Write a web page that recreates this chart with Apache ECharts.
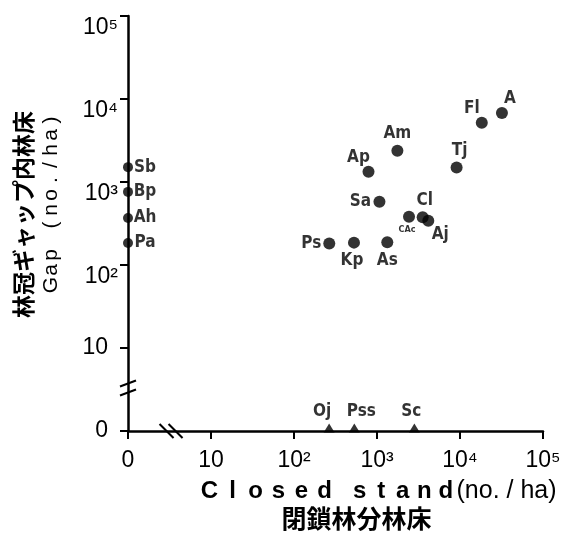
<!DOCTYPE html>
<html><head><meta charset="utf-8">
<script src="https://cdn.jsdelivr.net/npm/echarts@6/dist/echarts.min.js"></script>
<style>html,body{margin:0;padding:0;background:#fff}#c{width:564px;height:539px}</style>
</head><body><div id="c"></div>
<script>
// ---- data (0 means "none") ----
const mainNames  = ['A', 'Fl', 'Am', 'Ap', 'Tj', 'Sa', 'CAc', 'Cl', 'Aj', 'Ps', 'Kp', 'As'];
const mainClosed = [32000, 18300, 1760, 790, 9100, 1070, 2430, 3550, 4150, 266, 528, 1330];
const mainGap    = [6760, 5180, 2380, 1330, 1500, 580, 382, 376, 342, 182, 186, 188];

const gapOnlyNames = ['Sb', 'Bp', 'Ah', 'Pa'];
const gapOnlyClosed = [0, 0, 0, 0];
const gapOnlyGap = [1510, 760, 368, 184];

const closedOnlyNames = ['Oj', 'Pss', 'Sc'];
const closedOnlyClosed = [265, 533, 2820];
const closedOnlyGap = [0, 0, 0];

const tickLabels = ['0', '10', '10²', '10³', '10⁴', '10⁵'];

// ---- label placement (style, not data) ----
const labelOffsets = {
  A: [8, -15], Fl: [-10, -14], Am: [0, -17], Ap: [-10, -14], Tj: [3, -17], Sa: [-19, 0],
  CAc: [-2, 13], Cl: [2, -17], Aj: [12, 14], Ps: [-18, 0], Kp: [-2, 18], As: [0, 18],
  Sb: [17, 0], Bp: [17, 0], Ah: [17, 0], Pa: [17, 0],
  Oj: [-7, -16], Pss: [7, -16], Sc: [-3, -16]
};

const LBL_FONT = '"Liberation Sans Narrow", "DejaVu Sans Condensed", "Liberation Sans", sans-serif';
const AX_FONT = '"Liberation Sans", Arial, "DejaVu Sans", sans-serif';

function toAxis(v) { return v === 0 ? 1 : v; } // zero is drawn at the axis' "0" position (=1 on log scale)

function build(names, xs, ys) {
  return names.map((n, i) => ({
    name: n,
    value: [toAxis(xs[i]), toAxis(ys[i])],
    label: {
      offset: labelOffsets[n] || [0, 0],
      fontSize: n === 'CAc' ? 9 : 17
    }
  }));
}

function tickText(v) {
  const i = Math.round(Math.log10(v));
  return tickLabels[i] === undefined ? '' : tickLabels[i];
}

const labelCommon = {
  show: true, position: 'inside', formatter: p => p.name,
  color: '#000', fontFamily: LBL_FONT, fontWeight: 'bold', fontSize: 17
};

const chart = echarts.init(document.getElementById('c'), null, { renderer: 'canvas' });

const axisCommon = {
  type: 'log', logBase: 10, min: 1, max: 100000,
  axisLine: { show: true, lineStyle: { color: '#000', width: 2.5 } },
  axisTick: { show: true, inside: false, length: 8, lineStyle: { color: '#000', width: 2 } },
  minorTick: { show: false },
  splitLine: { show: false }
};
const lblFont = { color: '#000', fontFamily: AX_FONT, fontSize: 23, lineHeight: 23 };

chart.setOption({
  animation: false,
  backgroundColor: '#fff',
  grid: { left: 128, right: 21, top: 16, bottom: 108, containLabel: false },
  xAxis: Object.assign({}, axisCommon, {
    axisLabel: Object.assign({ formatter: tickText, margin: 18 }, lblFont)
  }),
  yAxis: [
    Object.assign({}, axisCommon, {
      position: 'left',
      axisLabel: Object.assign({
        formatter: v => (Math.round(Math.log10(v)) <= 1 ? tickText(v) : ''), margin: 20
      }, lblFont)
    }),
    Object.assign({}, axisCommon, {
      position: 'left', offset: 0,
      axisLine: { show: false }, axisTick: { show: false },
      axisLabel: Object.assign({
        formatter: v => (Math.round(Math.log10(v)) >= 2 ? tickText(v) : ''), margin: 10,
        verticalAlign: 'top'
      }, lblFont)
    })
  ],
  series: [
    {
      type: 'scatter', clip: false, symbol: 'circle', symbolSize: 12,
      itemStyle: { color: '#000' }, label: labelCommon,
      data: build(mainNames, mainClosed, mainGap)
    },
    {
      type: 'scatter', clip: false, symbol: 'circle', symbolSize: 10,
      itemStyle: { color: '#000' }, label: labelCommon,
      data: build(gapOnlyNames, gapOnlyClosed, gapOnlyGap)
    },
    {
      type: 'scatter', clip: false, symbol: 'triangle', symbolSize: [11, 9], symbolOffset: [0, -3],
      itemStyle: { color: '#000' }, label: labelCommon,
      data: build(closedOnlyNames, closedOnlyClosed, closedOnlyGap)
    }
  ]
});

// ---- decorations: axis titles and axis break marks ----
const yT2 = ['G', 'a', 'p', ' ', '(', 'n', 'o', '.', '/', 'h', 'a', ')'];
const xT1a = ['C', 'l', 'o', 's', 'e', 'd'];
const xT1b = ['s', 't', 'a', 'n', 'd'];

const g = [];
g.push({
  type: 'text', x: 23, y: 214.5, rotation: Math.PI / 2,
  style: { text: '林冠ギャップ内林床', fontSize: 23, fontWeight: 'bold', fontFamily: '"Noto Sans CJK JP", sans-serif',
           fill: '#000', align: 'center', verticalAlign: 'middle' }
});
g.push({
  type: 'text', x: 51, y: 202.5, rotation: Math.PI / 2,
  style: {
    text: yT2.map(c => '{c|' + c + '}').join(''),
    rich: { c: { width: 15, align: 'center', fontSize: 21, fontFamily: AX_FONT, fill: '#000' } },
    fill: '#000', align: 'center', verticalAlign: 'middle'
  }
});
g.push({
  type: 'text', x: 198, y: 491,
  style: {
    text: xT1a.map(c => '{a|' + c + '}').join('') + '{sp| }' + xT1b.map(c => '{b|' + c + '}').join('') + '{u|(no. / ha)}',
    rich: {
      a: { width: 23, align: 'center', fontSize: 24, fontWeight: 'bold', fontFamily: AX_FONT, fill: '#000' },
      b: { width: 21.5, align: 'center', fontSize: 24, fontWeight: 'bold', fontFamily: AX_FONT, fill: '#000' },
      sp: { width: 13, fontSize: 24, fontFamily: AX_FONT },
      u: { fontSize: 25, fontFamily: AX_FONT, fill: '#000' }
    },
    fill: '#000', align: 'left', verticalAlign: 'middle'
  }
});
g.push({
  type: 'text', x: 356.5, y: 518,
  style: { text: '閉鎖林分林床', fontSize: 25, fontWeight: 'bold', fontFamily: '"Noto Sans CJK JP", sans-serif',
           fill: '#000', align: 'center', verticalAlign: 'middle' }
});

// break positions expressed in axis values
const yBreakVal = 3.3, xBreakVal = 3.3;
const yAxisX = chart.convertToPixel({ xAxisIndex: 0 }, 1);
const xAxisY = chart.convertToPixel({ yAxisIndex: 0 }, 1);
const yb = chart.convertToPixel({ yAxisIndex: 0 }, yBreakVal);
const xb = chart.convertToPixel({ xAxisIndex: 0 }, xBreakVal);
[-4.5, 4.5].forEach(d => {
  g.push({ type: 'line', shape: { x1: yAxisX - 8, y1: yb + d + 3, x2: yAxisX + 8, y2: yb + d - 3 },
           style: { stroke: '#000', lineWidth: 2 } });
  g.push({ type: 'line', shape: { x1: xb + d - 7, y1: xAxisY - 7, x2: xb + d + 7, y2: xAxisY + 7 },
           style: { stroke: '#000', lineWidth: 2 } });
});

chart.setOption({ graphic: g });
</script>
</body></html>
